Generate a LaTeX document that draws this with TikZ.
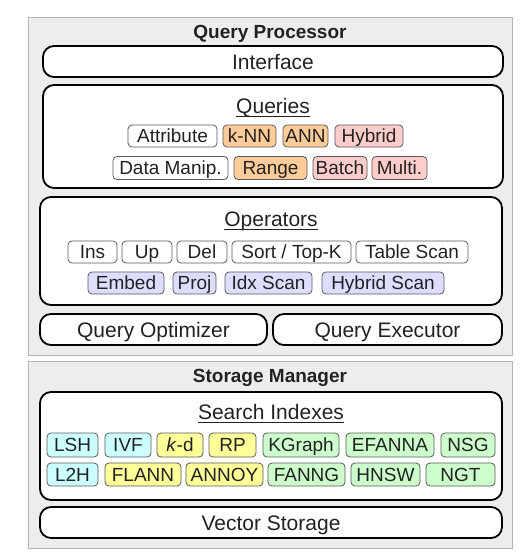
\documentclass[tikz,border=0pt]{standalone}
\usepackage{fontspec}
\setmainfont{Liberation Sans}
\definecolor{panelfill}{HTML}{EDEDED}
\definecolor{paneldraw}{HTML}{B4B4B4}
\definecolor{corange}{HTML}{FFCC99}
\definecolor{cpink}{HTML}{FFCCCC}
\definecolor{clav}{HTML}{DDDDFF}
\definecolor{ccyan}{HTML}{CCFFFF}
\definecolor{cyellow}{HTML}{FFFF99}
\definecolor{cgreen}{HTML}{CCFFCC}
\definecolor{txt}{HTML}{222222}
\tikzset{
  panel/.style={draw=paneldraw, fill=panelfill, line width=0.8pt, inner sep=0pt},
  bigbox/.style={draw=black, fill=white, line width=1.8pt, rounded corners=11pt, inner sep=0pt, text=txt, font=\fontsize{21}{24}\selectfont, text height=16pt, text depth=1pt},
  chip/.style={draw=black!65, line width=0.8pt, rounded corners=4pt, inner sep=0pt, text=txt, font=\fontsize{19}{22}\selectfont, fill=white, text height=14.6pt, text depth=1pt},
  ptitle/.style={text=txt, font=\fontsize{19}{22}\selectfont\bfseries, inner sep=0pt, text height=14.6pt, text depth=1pt},
  btitle/.style={text=txt, font=\fontsize{21}{24}\selectfont, inner sep=0pt, text height=16pt, text depth=1pt},
  uline/.style={line width=1.2pt, draw=txt},
}
\begin{document}
\begin{tikzpicture}[x=1pt,y=-1pt]
\useasboundingbox (0,0) rectangle (531,554);
% panels
\node[panel, minimum width=484pt, minimum height=338pt] (qp) at (270,186) {};
\node[panel, minimum width=484pt, minimum height=187pt] (sm) at (270,454.5) {};
\node[ptitle] (qpt) at (270,32) {Query Processor};
\node[ptitle] (smt) at (270,376) {Storage Manager};
% big boxes
\node[bigbox, minimum width=460pt, minimum height=31pt] (iface) at (273,61.5) {Interface};
\node[bigbox, minimum width=460pt, minimum height=103pt] (queries) at (273,136.5) {};
\node[btitle] (qt) at (273,106) {Queries};
\draw[uline] ([yshift=-3.2pt]qt.base west) -- ([yshift=-3.2pt]qt.base east);
\node[bigbox, minimum width=462pt, minimum height=108pt] (ops) at (271,251) {};
\node[btitle] (ot) at (271,219) {Operators};
\draw[uline] ([yshift=-3.2pt]ot.base west) -- ([yshift=-3.2pt]ot.base east);
\node[bigbox, minimum width=227pt, minimum height=31pt] (qo) at (153.5,329.5) {Query Optimizer};
\node[bigbox, minimum width=229pt, minimum height=31pt] (qe) at (387.5,329.5) {Query Executor};
\node[bigbox, minimum width=462pt, minimum height=108pt] (si) at (271,446) {};
\node[btitle] (sit) at (271,412) {Search Indexes};
\draw[uline] ([yshift=-3.2pt]sit.base west) -- ([yshift=-3.2pt]sit.base east);
\node[bigbox, minimum width=462pt, minimum height=31pt] (vs) at (271,522.5) {Vector Storage};
% queries chips
\node[chip, minimum width=89pt, minimum height=22pt] (attr) at (172.5,136) {Attribute};
\node[chip, fill=corange, minimum width=53pt, minimum height=22pt] (knn) at (249.5,136) {k-NN};
\node[chip, fill=corange, minimum width=45pt, minimum height=22pt] (ann) at (305.5,136) {ANN};
\node[chip, fill=cpink, minimum width=68pt, minimum height=22pt] (hyb) at (369,136) {Hybrid};
\node[chip, minimum width=115pt, minimum height=23pt] (dm) at (170.5,168) {Data Manip.};
\node[chip, fill=corange, minimum width=73pt, minimum height=23pt] (rng) at (270.5,168) {Range};
\node[chip, fill=cpink, minimum width=54pt, minimum height=23pt] (bat) at (340,168) {Batch};
\node[chip, fill=cpink, minimum width=55pt, minimum height=23pt] (mul) at (399.5,168) {Multi.};
% operators chips
\node[chip, minimum width=49pt, minimum height=22pt] (ins) at (92.5,252) {Ins};
\node[chip, minimum width=50pt, minimum height=22pt] (up) at (147,252) {Up};
\node[chip, minimum width=50pt, minimum height=22pt] (del) at (202,252) {Del};
\node[chip, minimum width=119pt, minimum height=22pt] (sort) at (291.5,252) {Sort / Top-K};
\node[chip, minimum width=112pt, minimum height=22pt] (ts) at (412,252) {Table Scan};
\node[chip, fill=clav, minimum width=76pt, minimum height=22pt] (emb) at (126,283) {Embed};
\node[chip, fill=clav, minimum width=43pt, minimum height=22pt] (proj) at (194.5,283) {Proj};
\node[chip, fill=clav, minimum width=87pt, minimum height=22pt] (idx) at (268.5,283) {Idx Scan};
\node[chip, fill=clav, minimum width=122pt, minimum height=22pt] (hs) at (383,283) {Hybrid Scan};
% index chips
\node[chip, fill=ccyan, minimum width=51pt, minimum height=24pt] (lsh) at (72.5,445) {LSH};
\node[chip, fill=ccyan, minimum width=46pt, minimum height=24pt] (ivf) at (128,445) {IVF};
\node[chip, fill=cyellow, minimum width=46pt, minimum height=24pt] (kd) at (180,445) {\textit{k}-d};
\node[chip, fill=cyellow, minimum width=47pt, minimum height=24pt] (rp) at (232.5,445) {RP};
\node[chip, fill=cgreen, minimum width=76pt, minimum height=24pt] (kg) at (301,445) {KGraph};
\node[chip, fill=cgreen, minimum width=88pt, minimum height=24pt] (efa) at (390,445) {EFANNA};
\node[chip, fill=cgreen, minimum width=54pt, minimum height=24pt] (nsg) at (468,445) {NSG};
\node[chip, fill=ccyan, minimum width=51pt, minimum height=23pt] (l2h) at (72.5,474.5) {L2H};
\node[chip, fill=cyellow, minimum width=76pt, minimum height=23pt] (fla) at (143,474.5) {FLANN};
\node[chip, fill=cyellow, minimum width=77pt, minimum height=23pt] (anno) at (224.5,474.5) {ANNOY};
\node[chip, fill=cgreen, minimum width=77pt, minimum height=23pt] (fan) at (306.5,474.5) {FANNG};
\node[chip, fill=cgreen, minimum width=69pt, minimum height=23pt] (hnsw) at (385.5,474.5) {HNSW};
\node[chip, fill=cgreen, minimum width=69pt, minimum height=23pt] (ngt) at (460.5,474.5) {NGT};
\end{tikzpicture}
\end{document}
